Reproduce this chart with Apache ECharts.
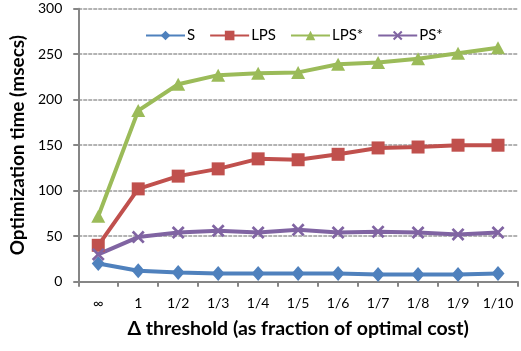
<!DOCTYPE html>
<html>
<head>
<meta charset="utf-8">
<script src="https://cdn.jsdelivr.net/npm/echarts@6/dist/echarts.min.js"></script>
<style>
  html, body { margin: 0; padding: 0; background: #fff; }
  #chart { width: 521px; height: 351px; }
</style>
</head>
<body>
<div id="chart"></div>
<script>
// Threshold categories along the x axis
const categories = ['∞', '1', '1/2', '1/3', '1/4', '1/5', '1/6', '1/7', '1/8', '1/9', '1/10'];

// Optimization time in milliseconds for each strategy
const sValues = [20, 12, 10, 9, 9, 9, 9, 8, 8, 8, 9];
const lpsValues = [40, 102, 116, 124, 135, 134, 140, 147, 148, 150, 150];
const lpsStarValues = [72, 188, 217, 227, 229, 230, 239, 241, 245, 251, 257];
const psStarValues = [30, 49, 54, 56, 54, 57, 54, 55, 54, 52, 54];

const seriesNames = ['S', 'LPS', 'LPS*', 'PS*'];
const yTicks = [0, 50, 100, 150, 200, 250, 300];

const crossSymbol = 'path://M0,1.5 L1.5,0 L5,3.5 L8.5,0 L10,1.5 L6.5,5 L10,8.5 L8.5,10 L5,6.5 L1.5,10 L0,8.5 L3.5,5 Z';

const font = 'Lato, "Open Sans", sans-serif';

const chart = echarts.init(document.getElementById('chart'), null, { renderer: 'canvas' });

function line(name, data, color, symbol, size) {
  return {
    name: name,
    type: 'line',
    data: data,
    symbol: symbol,
    symbolSize: size,
    showAllSymbol: true,
    lineStyle: { color: color, width: 4 },
    itemStyle: { color: color, borderWidth: 0 },
    emphasis: { disabled: true },
    animation: false
  };
}

chart.setOption({
  animation: false,
  grid: { left: 78, right: 3, top: 8.7, bottom: 69.3, containLabel: false },
  legend: {
    top: 23,
    left: 140,
    itemWidth: 39,
    itemHeight: 12,
    itemGap: 14,
    textStyle: { fontFamily: font, fontSize: 15, color: '#000', padding: [0, 0, 0, -3] },
    data: seriesNames
  },
  xAxis: {
    type: 'category',
    data: categories,
    boundaryGap: true,
    name: 'Δ threshold (as fraction of optimal cost)',
    nameLocation: 'middle',
    nameGap: 37,
    nameTextStyle: { fontFamily: font, fontSize: 19.5, fontWeight: 'bold', color: '#000' },
    axisLine: { lineStyle: { color: '#868686', width: 2 } },
    axisTick: { show: true, length: 5, lineStyle: { color: '#868686', width: 2 } },
    axisLabel: { fontFamily: font, fontSize: 14, color: '#000', margin: 15 },
    splitLine: { show: false }
  },
  yAxis: {
    type: 'value',
    min: yTicks[0],
    max: yTicks[yTicks.length - 1],
    interval: 50,
    name: 'Optimization time (msecs)',
    nameLocation: 'middle',
    nameGap: 46,
    nameTextStyle: { fontFamily: font, fontSize: 19, fontWeight: 'bold', color: '#000' },
    axisLine: { show: true, lineStyle: { color: '#868686', width: 2 } },
    axisTick: { show: true, length: 5, lineStyle: { color: '#868686', width: 2 } },
    axisLabel: { fontFamily: font, fontSize: 14, color: '#000', margin: 16 },
    splitLine: { show: true, lineStyle: { color: '#9a9a9a', width: 1.5, type: [4, 1] } }
  },
  series: [
    line(seriesNames[0], sValues, '#4F81BD', 'diamond', [13, 15]),
    line(seriesNames[1], lpsValues, '#C0504D', 'rect', 13),
    line(seriesNames[2], lpsStarValues, '#9BBB59', 'triangle', [14, 13]),
    line(seriesNames[3], psStarValues, '#8064A2', crossSymbol, 13)
  ]
});
</script>
</body>
</html>
